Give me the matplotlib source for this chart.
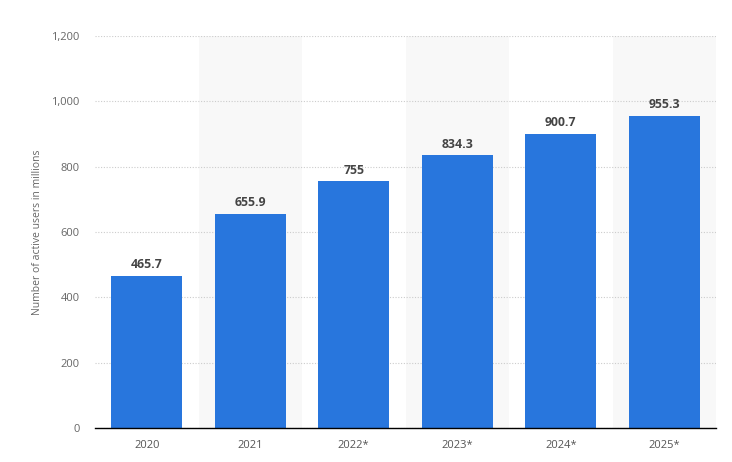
import matplotlib
matplotlib.use("Agg")
import matplotlib.pyplot as plt
import numpy as np

categories = ["2020", "2021", "2022*", "2023*", "2024*", "2025*"]
values = [465.7, 655.9, 755, 834.3, 900.7, 955.3]
value_labels = ["465.7", "655.9", "755", "834.3", "900.7", "955.3"]
yticks = [0, 200, 400, 600, 800, 1000, 1200]

plt.rcParams['font.family'] = ['Open Sans', 'DejaVu Sans']

fig = plt.figure(figsize=(7.32, 4.62), dpi=100)
ax = fig.add_axes([95/732, 34/462, 621/732, 392/462])

x = np.arange(len(categories))
for i in x:
    if i % 2 == 1:
        ax.axvspan(i - 0.5, i + 0.5, color="#f8f8f8", zorder=0, lw=0)

ax.bar(x, values, width=0.69, color="#2876dd", zorder=3)
for xi, v, lab in zip(x, values, value_labels):
    ax.text(xi, v + 14, lab, ha="center", va="bottom", fontsize=8.8,
            fontweight="bold", color="#444444", zorder=4)

ax.set_xlim(-0.5, len(categories) - 0.5)
ax.set_ylim(0, 1200)
ax.set_yticks(yticks)
ax.set_yticklabels([f"{t:,}" for t in yticks])
ax.set_xticks(x)
ax.set_xticklabels(categories)
ax.grid(axis="y", linestyle=(0, (1, 1.5)), color="#cccccc", linewidth=0.8, zorder=1)
ax.set_axisbelow(True)

for s in ["top", "right", "left"]:
    ax.spines[s].set_visible(False)
ax.spines["bottom"].set_color("#000000")
ax.spines["bottom"].set_linewidth(1.0)
ax.spines["bottom"].set_zorder(5)

ax.tick_params(axis="y", length=0, pad=11, labelsize=8, labelcolor="#666666")
ax.tick_params(axis="x", length=0, pad=9, labelsize=8, labelcolor="#555555")

ax.set_ylabel("Number of active users in millions", fontsize=7.5, color="#666666", labelpad=6)

fig.savefig("out.png", dpi=100)
